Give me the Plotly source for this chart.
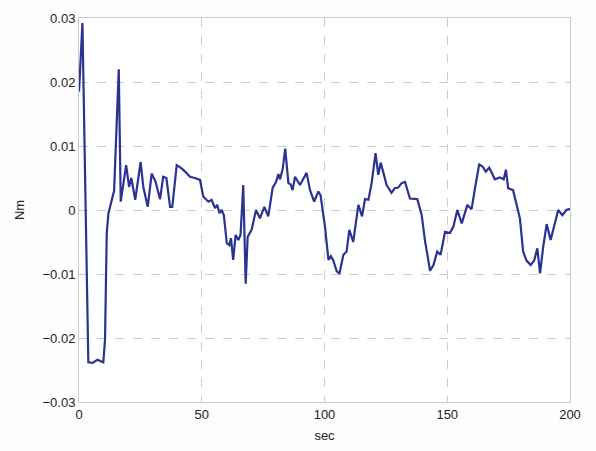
import plotly.graph_objects as go

# Time (sec) and torque (Nm) samples
t = [0, 1.4, 3.8, 5.5, 7.5, 9.9, 10.6, 11.3, 12.0, 14.3, 16.2, 17.0, 19.2, 20.4, 21.3,
     22.9, 25.1, 26.2, 28.0, 29.6, 31.2, 33.0, 34.3, 35.6, 37.1, 38.0, 39.8, 41.8,
     43.2, 45.2, 47.2, 49.3, 50.6, 52.7, 54.0, 55.4, 56.3, 57.2, 58.1, 59.0, 60.2,
     61.2, 61.9, 62.8, 63.8, 64.9, 65.8, 66.9, 67.9, 68.7, 70.3, 72.1, 73.7, 75.5,
     77.1, 78.9, 80.3, 81.2, 81.9, 83.0, 84.0, 85.3, 86.2, 87.0, 88.0, 90.0, 92.7,
     94.1, 95.8, 97.5, 98.4, 100.2, 101.6, 102.6, 103.5, 105.0, 106.1, 107.7, 109.0,
     110.1, 111.7, 113.8, 115.3, 116.5, 117.9, 119.2, 120.8, 121.9, 122.9, 124.2,
     125.3, 127.3, 128.6, 130.0, 131.4, 132.8, 134.8, 137.8, 139.6, 140.9, 143.0,
     144.4, 145.9, 147.3, 149.1, 151.1, 152.5, 154.1, 155.9, 158.2, 159.9, 161.3,
     163.0, 164.4, 165.7, 167.1, 169.4, 171.4, 173.0, 173.9, 174.8, 176.8, 179.6,
     180.9, 182.3, 184.0, 185.4, 186.7, 187.8, 189.1, 190.5, 192.1, 193.5, 195.2,
     196.9, 198.5, 200.0]
torque = [0.0185, 0.0292, -0.0238, -0.0239, -0.0234, -0.0238, -0.0203, -0.0036,
          -0.0005, 0.003, 0.022, 0.0013, 0.007, 0.0036, 0.005, 0.0016, 0.0075, 0.0036,
          0.0005, 0.0057, 0.0044, 0.0017, 0.0052, 0.005, 0.0005, 0.0005, 0.007,
          0.0065, 0.006, 0.0052, 0.005, 0.0047, 0.0021, 0.0013, 0.0016, 0.0003,
          0.0008, -0.0005, 0.0, -0.0008, -0.0052, -0.0055, -0.0044, -0.0078,
          -0.0039, -0.0047, -0.0039, 0.0039, -0.0115, -0.0042, -0.0031, 0.0,
          -0.0013, 0.0005, -0.001, 0.0035, 0.0044, 0.0056, 0.0048, 0.0065, 0.0096,
          0.0042, 0.004, 0.0031, 0.0052, 0.0039, 0.0058, 0.0031, 0.0013, 0.0029,
          0.0023, -0.0026, -0.0078, -0.0072, -0.0078, -0.0096, -0.0099, -0.007,
          -0.0065, -0.0031, -0.005, 0.0008, -0.001, 0.0017, 0.0016, 0.0042, 0.0089,
          0.0055, 0.0074, 0.0055, 0.0039, 0.0027, 0.0034, 0.0035, 0.0042, 0.0044,
          0.0018, 0.0017, -0.0008, -0.0047, -0.0095, -0.0086, -0.0065, -0.007,
          -0.0034, -0.0036, -0.0026, 0.0, -0.0021, 0.0008, 0.0001, 0.0034, 0.0071,
          0.0068, 0.006, 0.0066, 0.0048, 0.0051, 0.0048, 0.0063, 0.0034, 0.0031,
          -0.0013, -0.0065, -0.0079, -0.0086, -0.0079, -0.006, -0.0099, -0.0057,
          -0.0022, -0.0047, -0.0026, 0.0, -0.0008, 0.0, 0.0002]

x_ticks = [0, 50, 100, 150, 200]
x_labels = ["0", "50", "100", "150", "200"]
y_ticks = [0.03, 0.02, 0.01, 0, -0.01, -0.02, -0.03]
y_labels = ["0.03", "0.02", "0.01", "0", "\u22120.01", "\u22120.02", "\u22120.03"]

label_font = dict(family="Liberation Sans, Arial", size=13, color="#222")

fig = go.Figure()
fig.add_trace(go.Scatter(
    x=t, y=torque, mode="lines",
    line=dict(color="#2a3391", width=2.2),
    showlegend=False,
))

axis_common = dict(
    showgrid=True, gridcolor="#cccccc", griddash="dash", gridwidth=1,
    showline=True, linecolor="#c9cccc", linewidth=1, mirror=True,
    zeroline=False, ticks="", tickfont=label_font, automargin=False,
)

fig.update_xaxes(range=[0, 200], tickvals=x_ticks, ticktext=x_labels,
                 title=dict(text="sec", standoff=10, font=label_font), **axis_common)
fig.update_yaxes(range=[-0.03, 0.03], tickvals=y_ticks, ticktext=y_labels,
                 title=dict(text="Nm", standoff=14, font=label_font), **axis_common)

fig.update_layout(
    width=596, height=451,
    margin=dict(l=79, r=26, t=18, b=49),
    paper_bgcolor="#fdfdfd", plot_bgcolor="#ffffff",
)

fig.write_html("out.html")
